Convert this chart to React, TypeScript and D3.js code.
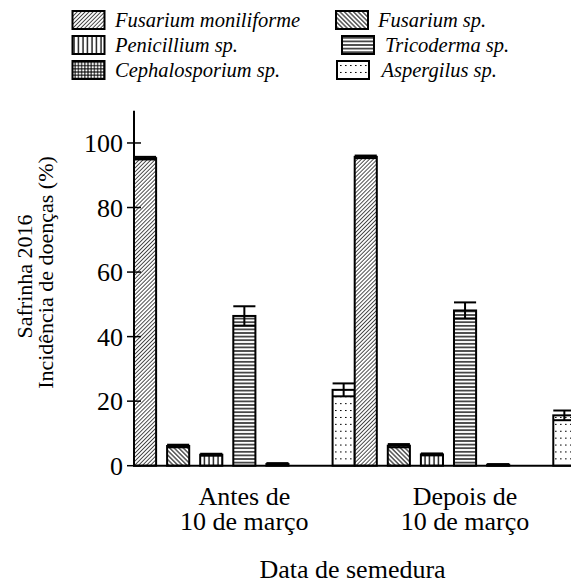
import React from "react";
import * as d3 from "d3";

// ---- data ----
const groupLabels: string[][] = [
  ["Antes de", "10 de março"],
  ["Depois de", "10 de março"],
];
const groupKeys = ["antes", "depois"];
const slotKeys = ["fm", "fsp", "pen", "tri", "cep", "none", "asp"];
const seriesNames: Record<string, string> = {
  fm: "Fusarium moniliforme",
  fsp: "Fusarium sp.",
  pen: "Penicillium sp.",
  tri: "Tricoderma sp.",
  cep: "Cephalosporium sp.",
  asp: "Aspergilus sp.",
};
const fmValues = [95.3, 95.7];
const fmErrors = [0.4, 0.4];
const fspValues = [6.1, 6.2];
const fspErrors = [0.4, 0.5];
const penValues = [3.4, 3.5];
const penErrors = [0.3, 0.3];
const triValues = [46.4, 48.1];
const triErrors = [3.0, 2.5];
const cepValues = [0.5, 0.3];
const cepErrors = [0.3, 0.2];
const noneValues = [0, 0];
const noneErrors = [0, 0];
const aspValues = [23.5, 15.6];
const aspErrors = [2.0, 1.5];
const yTicks = [0, 20, 40, 60, 80, 100];

const valuesBySlot: Record<string, number[]> = {
  fm: fmValues, fsp: fspValues, pen: penValues, tri: triValues,
  cep: cepValues, none: noneValues, asp: aspValues,
};
const errorsBySlot: Record<string, number[]> = {
  fm: fmErrors, fsp: fspErrors, pen: penErrors, tri: triErrors,
  cep: cepErrors, none: noneErrors, asp: aspErrors,
};

const legendLeft = ["fm", "pen", "cep"];
const legendRight = ["fsp", "tri", "asp"];

const W = 571;
const H = 583;
const FONT = "Liberation Serif";

// legend placement (swatch x, text x) per entry
const legendPos: Record<string, [number, number]> = {
  fm: [72.5, 115], pen: [72.5, 115], cep: [72.5, 115],
  fsp: [336, 378], tri: [342, 385], asp: [337, 381.5],
};

export default function App() {
  const y = d3.scaleLinear().domain([0, 110]).range([465.7, 110.7]);
  const x0 = d3.scaleBand<string>().domain(groupKeys).range([134, 134 + 2 * 220.7]).paddingInner(0).paddingOuter(0);
  const x1 = d3.scaleBand<string>().domain(slotKeys).range([0, x0.bandwidth()]).paddingInner(0.332).paddingOuter(0);
  const bw = x1.bandwidth();

  const fillFor = (k: string) => `url(#pat-${k})`;

  const bars: React.ReactNode[] = [];
  groupKeys.forEach((g, gi) => {
    slotKeys.forEach((s) => {
      const v = valuesBySlot[s][gi];
      const e = errorsBySlot[s][gi];
      if (s === "none") return;
      const bx = (x0(g) as number) + (x1(s) as number);
      const by = y(v);
      const bh = y(0) - by;
      const cx = bx + bw / 2;
      bars.push(
        <g key={g + s}>
          <rect x={bx} y={by} width={bw} height={bh} fill="white" />
          <rect x={bx} y={by} width={bw} height={bh} fill={fillFor(s)} stroke="black" strokeWidth={2} />
          <line x1={cx} x2={cx} y1={y(v - e)} y2={y(v + e)} stroke="black" strokeWidth={2} />
          <line x1={bx} x2={bx + bw} y1={y(v + e)} y2={y(v + e)} stroke="black" strokeWidth={2} />
          <line x1={bx} x2={bx + bw} y1={y(v - e)} y2={y(v - e)} stroke="black" strokeWidth={2} />
        </g>
      );
    });
  });

  const legendRow = (k: string, i: number) => {
    const base = [27, 52, 77][i];
    const [sx, tx] = legendPos[k];
    return (
      <g key={k}>
        <rect x={sx} y={base - 16} width={32} height={18} fill="white" />
        <rect x={sx} y={base - 16} width={32} height={18} fill={fillFor(k)} stroke="black" strokeWidth={2} />
        <text x={tx} y={base} fontSize={20.5} fontStyle="italic">{seriesNames[k]}</text>
      </g>
    );
  };

  return (
    <svg width={W} height={H} style={{ position: "absolute", left: 0, top: 0, background: "white", fontFamily: FONT }}>
      <defs>
        <pattern id="pat-fm" patternUnits="userSpaceOnUse" width={2.8} height={2.8} patternTransform="rotate(45)">
          <line x1={1.4} y1={0} x2={1.4} y2={2.8} stroke="black" strokeWidth={0.7} />
        </pattern>
        <pattern id="pat-fsp" patternUnits="userSpaceOnUse" width={3.2} height={3.2} patternTransform="rotate(-45)">
          <line x1={1.6} y1={0} x2={1.6} y2={3.2} stroke="black" strokeWidth={1} />
        </pattern>
        <pattern id="pat-pen" patternUnits="userSpaceOnUse" width={4.5} height={4.5}>
          <line x1={2} y1={0} x2={2} y2={4.5} stroke="black" strokeWidth={1.3} />
        </pattern>
        <pattern id="pat-tri" patternUnits="userSpaceOnUse" width={4} height={3.6}>
          <line x1={0} y1={1.8} x2={4} y2={1.8} stroke="black" strokeWidth={1.3} />
        </pattern>
        <pattern id="pat-cep" patternUnits="userSpaceOnUse" width={3.2} height={3.2}>
          <line x1={0} y1={1.6} x2={3.2} y2={1.6} stroke="black" strokeWidth={1} />
          <line x1={1.6} y1={0} x2={1.6} y2={3.2} stroke="black" strokeWidth={1} />
        </pattern>
        <pattern id="pat-asp" patternUnits="userSpaceOnUse" width={5} height={6.9}>
          <line x1={0} y1={3.5} x2={1.6} y2={3.5} stroke="black" strokeWidth={1} />
        </pattern>
      </defs>

      {/* legend */}
      {legendLeft.map((k, i) => legendRow(k, i))}
      {legendRight.map((k, i) => legendRow(k, i))}

      {/* bars */}
      {bars}

      {/* axes */}
      <line x1={134} x2={134} y1={y(110)} y2={y(0)} stroke="black" strokeWidth={2} />
      <line x1={133} x2={W} y1={y(0)} y2={y(0)} stroke="black" strokeWidth={2} />
      {yTicks.map((t) => (
        <g key={t}>
          <line x1={127} x2={141} y1={y(t)} y2={y(t)} stroke="black" strokeWidth={1.5} />
          <text x={123} y={y(t)} dy="0.35em" textAnchor="end" fontSize={26}>{t}</text>
        </g>
      ))}

      {/* group labels */}
      {groupKeys.map((g, gi) => {
        const cx = (x0(g) as number) + x0.bandwidth() / 2;
        return (
          <g key={g}>
            {groupLabels[gi].map((l, li) => (
              <text key={li} x={cx} y={505 + li * 25} textAnchor="middle" fontSize={26}>{l}</text>
            ))}
          </g>
        );
      })}
      <text x={(134 + W) / 2} y={578} textAnchor="middle" fontSize={26}>Data de semedura</text>

      {/* y labels */}
      <text transform="translate(31.5,276.5) rotate(-90)" textAnchor="middle" fontSize={22}>Safrinha 2016</text>
      <text transform="translate(53,272.5) rotate(-90)" textAnchor="middle" fontSize={22}>Incidência de doenças (%)</text>
    </svg>
  );
}
